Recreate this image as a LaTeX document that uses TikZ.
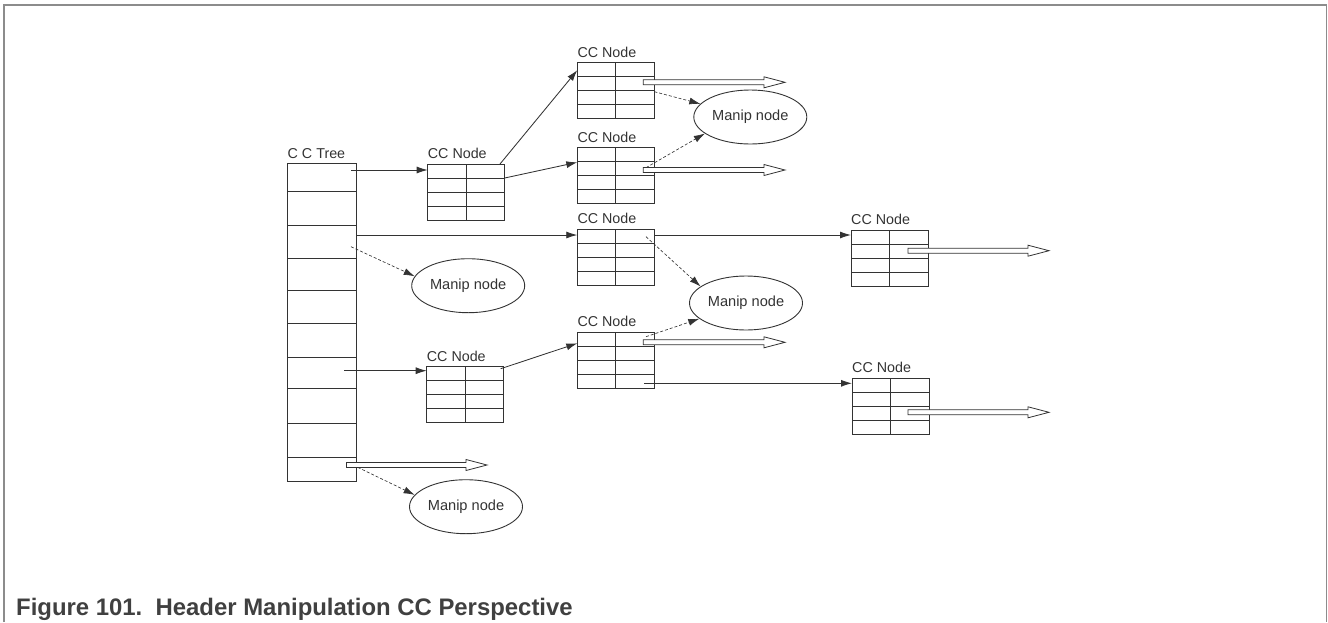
\documentclass[tikz,border=0pt]{standalone}
\usepackage{fontspec}
\setmainfont{Liberation Sans}
\usetikzlibrary{arrows.meta,calc,shapes.geometric}
\colorlet{Ink}{black!80}
\colorlet{FrameGray}{black!45}
\colorlet{CaptionGray}{black!75}

\begin{document}
\begin{tikzpicture}[x=1pt,y=-1pt,
    lab/.style={anchor=base west,inner sep=0pt,text=Ink,font=\fontsize{14.3}{17}\selectfont},
    ccline/.style={draw=Ink,line width=0.9pt},
    treebox/.style={ccline,anchor=north west,minimum width=69.2pt,minimum height=318.2pt,inner sep=0pt,outer sep=0pt},
    ccbox/.style={ccline,anchor=north west,minimum width=77pt,minimum height=56pt,inner sep=0pt,outer sep=0pt},
    manip/.style={ellipse,draw=Ink,line width=0.9pt,minimum width=113pt,minimum height=54pt,inner sep=0pt,text=Ink,font=\fontsize{14.6}{17}\selectfont},
    flow/.style={-{Latex[length=11pt,width=7pt]},Ink,line width=0.85pt},
    dflow/.style={flow,line width=0.65pt,dash pattern=on 3pt off 2pt},
    hollow/.style={draw=Ink,line width=0.8pt,fill=white,
      to path={($(\tikztostart)+(0,-2.5)$) -- ($(\tikztotarget)+(-21,-2.5)$) -- ($(\tikztotarget)+(-21,-5.5)$) -- (\tikztotarget)
        -- ($(\tikztotarget)+(-21,5.5)$) -- ($(\tikztotarget)+(-21,2.5)$) -- ($(\tikztostart)+(0,2.5)$) -- cycle}}
  ]
  \useasboundingbox (0,0) rectangle (1328,622);
  \draw[FrameGray,line width=1.2pt] (4,622) -- (4,5) -- (1326.5,5) -- (1326.5,622);
  \node[anchor=base west,inner sep=0pt,text=CaptionGray,font=\fontsize{23.9}{28}\selectfont\bfseries] (caption) at (16,615) {Figure 101.\ \ Header Manipulation CC Perspective};

  \node[treebox] (tree) at (287.5,163.5) {};
  \node[lab] (tree-lab) at ($(tree.north west)+(0,-5.5)$) {C C Tree};
  \foreach \y in {191.7,225,258.3,290,323.3,357.3,388.3,423.3,457.3}
    \draw[ccline] (tree.west |- 0,\y) -- (tree.east |- 0,\y);

  \foreach \n/\x/\y in {cc1/427.7/164,cc2/577.3/62.7,cc3/577.3/147.7,cc4/577.3/229,cc5/577.3/332.3,cc6/851/230,cc7/852/378.3,cc8/426.7/366.7}{
    \node[ccbox] (\n) at (\x,\y) {};
    \node[lab] (\n-lab) at ($(\n.north west)+(0,-5.5)$) {CC Node};
    \foreach \r in {14,28,42}
      \draw[ccline] ($(\n.north west)+(0,\r)$) -- ++(77,0);
    \draw[ccline] (\n.north) -- (\n.south);
  }

  \node[manip] (m1) at (750.3,117) {Manip node};
  \node[manip] (m2) at (468.2,285.7) {Manip node};
  \node[manip] (m3) at (746,303) {Manip node};
  \node[manip] (m4) at (466,506.7) {Manip node};

  \draw[flow] ($(tree.north east)+(-5.7,6.5)$) -- ($(cc1.north west)+(0,6)$);
  \draw[flow] ($(cc1.north east)+(-4.7,0)$) -- ($(cc2.north west)+(0,7.5)$);
  \draw[flow] ($(cc1.north east)+(0,14)$) -- ($(cc3.north west)+(0,14.6)$);
  \draw[flow] ($(tree.north east)+(0,71.5)$) -- ($(cc4.north west)+(0,6)$);
  \draw[flow] ($(cc4.north east)+(0,6)$) -- ($(cc6.north west)+(0,5)$);
  \draw[flow] ($(tree.north east)+(-12.4,207.2)$) -- ($(cc8.north west)+(0,4)$);
  \draw[flow] ($(cc8.north east)+(-3,2)$) -- ($(cc5.north west)+(0,11)$);
  \draw[flow] ($(cc5.south east)+(-10.3,-5)$) -- ($(cc7.north west)+(0,5)$);

  \draw[dflow] ($(cc2.north east)+(0,29)$) -- (m1);
  \draw[dflow] ($(cc3.north east)+(-8.3,20)$) -- (m1.200);
  \draw[dflow] ($(tree.north east)+(-5.7,83.2)$) -- (m2.170);
  \draw[dflow] ($(cc4.north east)+(-8.3,7.7)$) -- (m3.160);
  \draw[dflow] ($(cc5.north east)+(-8.3,4.4)$) -- (m3);
  \draw[dflow] ($(tree.south east)+(1,-14.4)$) -- (m4.167);

  \foreach \s/\dx/\dy/\len [count=\i] in {cc2/-11/19.6/141.7,cc3/-11/22.3/141.7,cc5/-11/10/141.7,cc6/-20/20.7/141,cc7/-21/34/141,tree/-10.3/301.5/140.6}{
    \coordinate (h\i-s) at ($(\s.north east)+(\dx,\dy)$);
    \coordinate (h\i-e) at ($(h\i-s)+(\len,0)$);
    \draw[hollow] (h\i-s) to (h\i-e);
  }
\end{tikzpicture}
\end{document}
